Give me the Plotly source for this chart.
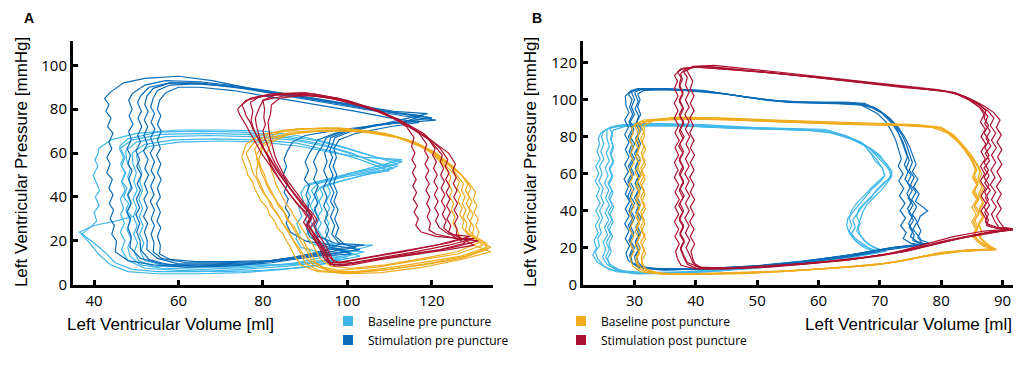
import plotly.graph_objects as go

# ---------------- Panel A data (volume ml, pressure mmHg) ----------------
A_baseline_pre = [
    [(41,62),(44,66),(50,69),(60,70.5),(70,70.5),(80,70),(88,68),(95,65),(102,61),(108,57.5),(112,55),(106,52),(100,50),(94,47),(90,45),(89,42),(89.6,38),(88.5,35),(89.2,31),(88,28),(88.8,24),(87.8,21),(89,17),(95,14),(100,12),(93,9),(85,7),(75,5.5),(65,5),(55,5),(48,6),(44,9),(41,14),(39,19),(37,23),(39,26),(40.6,29),(40,33),(41.2,36),(40.3,40),(41.3,43),(40.4,47),(39.8,50),(40.9,54),(40.2,57),(41,60),(41,62)],
    [(46,63),(48,66.5),(55,69.5),(65,70),(75,69.5),(85,68),(93,65.5),(100,62),(107,58),(113,56),(107,53),(101,51),(95,48),(91,46),(90.5,43),(91.3,40),(90.4,37),(91,33),(90,30),(91.2,26),(90.3,23),(91,19),(97,16),(104,15),(96,11),(86,8.5),(75,7),(65,6),(55,6),(49,7),(45,10),(43,14),(40,19),(36.5,24),(40,27),(45,29),(49,31),(47.5,34),(48.2,37),(47,40),(47.8,44),(46.6,47),(47.5,51),(46.5,54),(47.3,58),(46.5,61),(46,63)],
    [(46,62),(49,66),(56,68.5),(66,69),(76,68.5),(86,67),(94,64),(101,60),(106,56),(111,53),(105,51),(99,49),(93,46),(91.5,43),(92.3,40),(91.2,36),(92,33),(91,30),(91.8,27),(90.8,24),(92,21),(95,15),(98,11),(91,8),(80,6.5),(70,6),(60,6.5),(52,7.5),(48,11),(46.5,16),(47.3,20),(46.2,24),(47.2,28),(46.3,32),(47,35),(46.2,39),(47.4,43),(46.5,47),(47.3,51),(46.3,55),(47,58),(46,62)],
    [(47.5,61),(50,65),(57,67.5),(67,68),(77,67.5),(87,66),(95,63),(102,59),(108,55),(112,54),(106,51),(100,48),(94,45),(92.5,42),(93.2,38),(92.2,35),(93,31),(92,28),(92.8,25),(92,22),(94,19),(100,18),(106,18),(98,14),(88,10),(78,8),(66,7),(56,7.5),(51,9),(48.5,13),(48,17),(48.8,21),(47.8,25),(48.6,29),(47.7,33),(48.7,37),(47.9,41),(48.8,45),(48,49),(48.6,53),(47.7,57),(47.5,61)],
    [(49,60),(52,64),(59,66),(69,66.5),(79,66),(88,64.5),(96,61),(103,57),(110,52),(104,50),(98,47),(93.5,44),(94.2,41),(93.3,38),(94,34),(93,31),(93.8,28),(93,25),(94,22),(97,16),(101,14),(94,11),(84,9),(72,8),(62,8),(54,8.5),(50.5,11),(49.5,15),(50.3,19),(49.4,23),(50.2,27),(49.3,31),(50.1,35),(49.2,39),(50.2,43),(49.4,47),(50,51),(49.2,55),(49,60)],
    [(50,59),(53,63),(60,65),(70,65.5),(80,65),(89,63),(97,60),(104,58),(113,57),(107,54),(101,51),(96,48),(95.3,45),(96,42),(95,38),(95.8,35),(94.8,31),(95.6,28),(94.8,24),(96,20),(97,17),(103,13),(95,10),(85,9),(74,9),(64,8.5),(56,9),(52,11),(51,15),(51.8,19),(50.8,23),(51.6,27),(50.7,31),(51.5,35),(50.6,39),(51.5,43),(50.8,47),(51.3,51),(50.5,55),(50,59)],
]

A_stim_pre = [
    [(44,88),(42.5,85),(43.5,82),(42.8,79),(44,76),(43.2,72),(44.5,69),(43.5,65),(44.2,62),(43,58),(43.8,55),(43,51),(44.3,48),(43.5,44),(44.5,41),(43.6,37),(44.6,34),(43.8,30),(44.8,27),(44.2,23),(45.3,20),(45,15),(48,11),(54,9),(62,8),(72,8.5),(82,10),(92,13),(103,16),(96,18),(90,20),(86.5,24),(85.5,28),(86.3,32),(85.3,35),(86,39),(85,42),(85.8,46),(84.8,50),(85.6,54),(85,57),(85.8,61),(87,65),(90,68),(96,70),(104,72),(112,74),(120,76),(113,78),(105,80),(97,83),(88,86),(78,89),(68,93),(60,95),(52,94),(47,92),(44,88)],
    [(49,87),(48.2,84),(49,80),(48.3,77),(49.2,73),(48.2,70),(48.8,66),(47.8,62),(48.6,59),(48,55),(49,52),(48.2,48),(49,44),(48,41),(48.8,37),(47.8,33),(48.6,30),(48,26),(48.8,22),(48.5,17),(51,12),(56,9.5),(64,8.5),(74,9),(84,11),(94,14),(100,15),(94,18),(91,22),(90.3,26),(91.2,30),(90.2,33),(91,37),(90.2,41),(91,45),(89.8,48),(90.8,52),(90,56),(91,60),(92,63),(93,66),(97,69),(105,72),(113,74),(118,77),(111,78.5),(103,81),(94,84),(84,87.5),(74,90.5),(65,92.5),(57,93),(52,91),(49,87)],
    [(51,86),(50.3,83),(51.2,79),(50.4,76),(51.3,72),(50.3,68),(51,65),(49.9,61),(50.8,57),(50.1,54),(51.2,50),(50.2,46),(51,43),(50,39),(50.8,35),(49.9,32),(50.8,28),(50.1,24),(50.9,20),(51,16),(53,11.5),(58,9),(66,9),(76,9.5),(86,12),(96,16),(104,18),(97,19),(93,22),(92.3,26),(93.2,30),(92.2,34),(93,37),(92.2,41),(93.1,45),(92,48),(92.8,52),(92,56),(93,60),(94,63),(95,67),(99,70),(107,73),(121,75),(113,77),(104,80),(95,83),(85,86.5),(75,89.5),(66,91.5),(58,92),(53,90),(51,86)],
    [(52.5,86),(52,82),(52.8,79),(51.9,75),(52.7,72),(51.8,68),(52.6,64),(51.7,61),(52.8,57),(52,53),(52.9,50),(51.9,46),(52.7,42),(51.8,39),(52.6,35),(51.7,31),(52.7,28),(51.9,24),(52.6,20),(52.5,16),(55,12),(60,9.5),(68,9.5),(78,10),(88,12.5),(101,14),(96,17),(94.8,21),(95.6,25),(94.6,29),(95.4,32),(94.4,36),(95.2,40),(94.3,44),(95.3,48),(94.4,52),(95.2,56),(94.6,60),(95.5,63),(96,67),(100,70),(108,73),(120,76),(112,78),(103,81),(94,84),(84,87),(74,90),(65,92),(58,92),(54,89.5),(52.5,86)],
    [(54,85),(53.4,81),(54.3,78),(53.5,74),(54.4,71),(53.4,67),(54.2,63),(53.3,60),(54.3,56),(53.5,52),(54.4,49),(53.4,45),(54.2,41),(53.3,38),(54.3,34),(53.5,30),(54.3,27),(53.5,23),(54.2,19),(54,15),(56,12),(62,10),(70,10),(80,10.5),(90,13),(102,17),(98,19),(96.3,23),(97,27),(96,31),(96.9,35),(96,38),(96.8,42),(95.8,46),(96.6,50),(95.7,54),(96.5,58),(95.8,61),(96.5,64),(97,67),(101,70),(110,74),(119,78),(111,79),(102,82),(92,85),(82,88),(72,90.5),(64,91.5),(58,91),(55,88.5),(54,85)],
    [(55.5,84),(55,80),(55.8,77),(55,73),(55.9,70),(55,66),(55.7,62),(54.8,59),(55.8,55),(55,51),(55.9,48),(55,44),(55.7,40),(54.8,37),(55.7,33),(54.9,29),(55.8,26),(55,22),(55.7,18),(55.5,14),(58,11.5),(64,10.5),(72,10.5),(82,11),(92,14),(99,19),(97.2,22),(97.9,26),(97,30),(97.8,34),(96.8,38),(97.6,42),(96.7,46),(97.5,50),(96.6,54),(97.4,58),(96.8,62),(98,66),(102,69),(110,72),(117,74),(110,76),(102,79),(93,82),(83,85.5),(73,88.5),(65,90),(60,90),(57,87.5),(55.5,84)],
]

A_baseline_post = [
    [(75,58),(76,64),(79,68),(85,70.5),(95,71.5),(105,70),(112,67),(118,63),(122,57),(125,51),(126.5,47),(126,44),(126.8,41),(126.2,38),(127.2,35),(126.6,32),(127.6,29),(127.2,26),(128.5,23),(131,20),(134,17),(128,13),(120,10),(110,7),(100,5.5),(93,6),(89,9),(87.5,13),(86.5,17),(85.5,20),(84.8,23),(83.4,26),(82.8,29),(81.5,32),(81,35),(79.6,38),(78.8,41),(78,44),(77.5,47),(76.4,50),(76,53),(75.4,56),(75,58)],
    [(76,60),(78,65),(82,69),(88,71),(98,71.5),(107,69.5),(114,66),(120,61),(124,55),(126,50),(127.5,46),(127,43),(127.9,40),(127.2,37),(128.1,34),(127.4,31),(128.3,28),(128,25),(129.5,22),(133,19),(133,16),(127,12),(118,9),(108,6.5),(99,5),(93,6.5),(90,10),(89,14),(88,17.5),(86.8,21),(86,24),(85,27),(84,30),(83.2,33),(81.8,36),(81.2,39),(80,42),(79.2,45),(78.6,48),(77.6,51),(77.2,54),(76.6,57),(76,60)],
    [(78,62),(80,66),(84,69.5),(90,71),(100,71),(109,69),(116,65),(121,60),(125,54),(128,48),(129.2,44),(128.6,41),(129.5,38),(128.8,35),(129.8,32),(129.1,29),(130,26),(129.6,23),(131,20),(132,18),(126,14),(117,11),(107,8),(98,6.5),(94,8),(91.5,11),(90.5,15),(89.5,18),(88.6,21),(87.5,24),(86.8,27),(85.6,30),(85,33),(83.6,36),(83,39),(81.8,42),(81,45),(80.4,48),(79.6,51),(79.2,54),(78.6,58),(78,62)],
    [(79,57),(80,63),(83,67),(89,69.5),(99,70.5),(108,69),(115,65.5),(120,60),(123,54),(124.5,49),(124,46),(124.8,43),(124.2,40),(125.2,37),(124.6,34),(125.5,31),(125,28),(126,25),(126.5,22),(130,18),(134,15),(127,11.5),(118,8),(108,5.5),(100,5),(95,7),(92.5,10),(91.5,14),(90.4,17),(89.6,20),(88.3,23),(87.5,26),(86.2,29),(85.4,32),(84.5,35),(83.2,38),(82.4,41),(81.6,44),(80.8,47),(80.4,50),(79.6,53),(79,57)],
    [(81,60),(82,65),(86,68.5),(93,70),(103,70),(111,68),(117,64),(122,58),(126,52),(129,46),(130.4,42),(129.8,39),(130.7,36),(130,33),(131,30),(130.4,27),(131.2,24),(130.6,21),(131,19),(126,15),(118,12),(109,9),(101,7.5),(96,8.5),(93.5,12),(92.5,15.5),(91.6,19),(90.4,22),(89.5,25),(88.5,28),(87.4,31),(86.6,34),(85.4,37),(84.6,40),(83.8,43),(83,46),(82.6,49),(82,52),(81.6,56),(81,60)],
    [(80,64),(82,67),(87,69.5),(95,70.5),(104,69.5),(112,67),(118,62.5),(123,56),(127,50),(128.5,46),(128,43),(128.9,40),(128.2,37),(129.1,34),(128.4,31),(129.3,28),(128.8,25),(130,22),(132,20),(133,17),(127,13),(119,10.5),(111,8),(102,6),(96,6),(92,9),(90,12.5),(88.8,16),(87.8,19),(86.6,22),(86,25),(84.6,28),(83.8,31),(82.6,34),(82,37),(80.8,40),(80,43),(79.4,46),(78.6,49),(78.4,52),(78.8,55),(78.4,59),(80,64)],
]

A_stim_post = [
    [(74,80),(76,84),(80,86),(88,87),(96,85),(104,81),(110,77),(114,72),(115.8,67),(115.2,63),(116,60),(115.3,57),(116.2,54),(115.4,51),(116.3,48),(115.5,45),(116.4,42),(115.6,39),(116.6,36),(115.8,33),(116.8,30),(116.2,27),(117.5,24),(121,22),(127,21),(130,21),(124,18),(116,15),(107,12),(100,9.5),(96,9),(94.5,12),(93.6,16),(92.4,20),(91.2,24),(90.2,27),(91,30),(90.2,33),(88.6,36),(87.2,39),(86,42),(85,45),(83.8,48),(82.8,51),(81.8,54),(80.6,57),(79.6,60),(78.8,63),(77.8,66),(77,69),(76.2,72),(75.2,75),(74.5,77.5),(74,80)],
    [(75,82),(77,85),(82,87),(90,87.5),(98,85),(106,80),(112,75),(117,69),(118.8,64),(118.3,61),(119.2,58),(118.4,55),(119.3,52),(118.5,49),(119.4,46),(118.6,43),(119.5,40),(118.8,37),(119.6,34),(118.9,31),(119.7,28),(119.3,25),(121,23),(126,21),(131,20),(125,17),(117,14),(108,11.5),(101,9),(97,8.5),(95.5,11),(94.6,15),(93.5,19),(92.3,22),(91.2,26),(92.2,29),(91.5,32),(90.2,35),(88.8,38),(87.6,41),(86.4,44),(85.2,47),(84.2,50),(83.2,53),(82,56),(81.2,59),(80.2,62),(79.4,65),(78.6,68),(77.6,71),(77,74),(76,77),(75.6,79.5),(75,82)],
    [(77,83),(79,85.5),(84,87),(92,87),(100,84),(108,79),(114,73),(119,67),(120.8,62),(120.2,59),(121.1,56),(120.4,53),(121.3,50),(120.5,47),(121.4,44),(120.6,41),(121.5,38),(120.7,35),(121.6,32),(120.9,29),(121.8,26),(124,23),(129,22),(124,19),(115,16),(106,13),(99,10.5),(96,10),(95.2,13),(94.2,17),(93,21),(91.8,24),(90.6,27),(91.5,30),(90.8,33),(89.4,36),(88.2,39),(87,42),(85.8,45),(84.8,48),(83.6,51),(82.6,54),(81.6,57),(80.6,60),(79.8,63),(79,66),(78.2,69),(77.6,72),(77.2,75),(77.6,79),(77,83)],
    [(79,80),(80,84),(85,86),(93,86),(101,83),(109,78),(115,72),(120,65),(122.5,59),(122,56),(122.8,53),(122.1,50),(123,47),(122.2,44),(123.1,41),(122.3,38),(123.2,35),(122.5,32),(123.4,29),(122.8,26),(124.5,23),(126,21),(128,19),(122,16),(113,13.5),(105,11),(99,9),(96,9.5),(94.8,12.5),(94,16),(92.8,19.5),(91.6,23),(90.4,26),(89.6,28.5),(90.4,31),(89.4,34),(88,37),(86.8,40),(85.8,43),(84.6,46),(83.6,49),(82.8,52),(81.8,55),(81.2,58),(80.4,61),(79.8,64),(79.2,67),(78.8,70),(78.4,73),(78.2,76),(79,80)],
    [(80,84),(83,86.5),(89,87),(97,85),(105,81),(112,75.5),(118,69),(122,62),(123.8,57),(123.2,54),(124.1,51),(123.3,48),(124.2,45),(123.4,42),(124.3,39),(123.5,36),(124.4,33),(123.6,30),(124.5,27),(124,24),(126,22),(128,20),(130,18),(124,16),(116,14),(108,12),(101,10),(97,10),(95.6,13),(94.8,16),(93.6,19.5),(92.4,23),(91.2,26),(90.6,28.5),(91.6,31),(90.6,34),(89.2,37),(88,40),(86.8,43),(85.8,46),(84.8,49),(83.8,52),(83,55),(82.2,58),(81.6,61),(81,64),(80.4,67),(80,70),(80.6,73),(80.2,76),(80.4,80),(80,84)],
    [(82,82),(84,85),(90,86.5),(98,84.5),(106,80),(113,74),(119,67),(124,60),(125.6,55),(125,52),(125.8,49),(125.1,46),(126,43),(125.2,40),(126.1,37),(125.3,34),(126.2,31),(125.4,28),(126,25),(125.8,23),(127,21),(121,18),(113,15),(104,12),(98,10),(96.5,11.5),(95.8,14.5),(94.8,18),(93.8,21),(92.8,24),(92,27),(92.8,29.5),(92,32),(90.6,35),(89.4,38),(88.2,41),(87,44),(86,47),(85,50),(84.2,53),(83.4,56),(82.8,59),(82.4,62),(82,65),(81.6,68),(81.4,71),(81.2,74),(81.8,78),(82,82)],
]

# ---------------- Panel B data ----------------
B_baseline_pre = [
    [(25,83),(26.5,85.5),(30,86.5),(38,86),(46,84.5),(54,84),(60,83.5),(64,81),(66.5,77.5),(68.2,74),(69.3,70),(70.4,66),(71.6,62),(71.8,58),(70.6,55),(69.4,51),(68.6,47),(67.3,43),(66.4,39),(65.6,35),(66,31),(65.3,27),(66.2,23),(67.5,20),(69,18),(66,16),(60,13),(52,10),(45,8),(38,6.5),(31,6),(27,7),(25,10),(24,14),(23.6,18),(24.3,21),(24,25),(24.6,28),(24.2,32),(24.8,36),(24.3,40),(25,44),(24.5,48),(24.9,52),(24.2,56),(24.7,60),(24.3,64),(25,68),(24.5,72),(25,76),(24.6,80),(25,83)],
    [(25.5,84),(27,86),(31,87),(39,86.5),(47,85),(55,84.5),(61,84),(64.5,80.5),(67,77),(68.6,73),(70,69),(71.2,65),(72,61),(71.4,57),(70.2,53),(69,49),(67.8,45),(66.6,41),(66.2,37),(66.8,33),(66.2,29),(67.2,25),(68,22),(70,19),(66,16.5),(59,13.5),(51,10.5),(44,8),(36,6.5),(30,6),(27,8),(25.5,11),(24.8,15),(25.3,19),(24.9,23),(25.6,27),(25.1,31),(25.8,35),(25.2,39),(25.9,43),(25.3,47),(25.8,51),(25.1,55),(25.7,59),(25.2,63),(25.9,67),(25.4,71),(25.9,75),(25.5,79),(25.5,84)],
    [(24.5,82),(26,85),(29,86),(36,86),(44,85),(52,84),(58,83.5),(62,82),(65.5,78.5),(67.6,75),(68.5,71),(69.2,67),(70.4,63),(70.8,59),(69.8,56),(68.5,52),(67.4,48),(66.2,44),(65.4,40),(65,36),(65.4,32),(65,29),(66,25),(67.2,22),(69,18),(65,15),(58,12),(50,9),(42,7),(35,6),(29,6.5),(26,8),(24,12),(23.2,16),(23.8,20),(23.4,24),(24.1,28),(23.6,32),(24.3,36),(23.7,40),(24.4,44),(23.8,48),(24.3,52),(23.6,56),(24.2,60),(23.7,64),(24.4,68),(23.9,72),(24.3,76),(24.1,79),(24.5,82)],
    [(26,84.5),(28,86.5),(33,87),(41,86.5),(49,85),(56,84),(61,83),(64,80.5),(66.6,77),(68.6,73.5),(70,70),(70.8,66),(71.5,62),(72,59),(71.2,55),(70.2,51),(69,47),(67.8,43),(67.2,39),(66.8,35),(66.4,31),(66.8,27),(67.4,24),(69,20),(71,18),(67,16),(61,14),(54,11),(46,8.5),(38,7),(32,6.5),(28,7.5),(26,10),(25.6,14),(26.2,18),(25.8,22),(26.4,26),(25.9,30),(26.5,34),(26,38),(26.6,42),(26,46),(26.5,50),(25.8,54),(26.4,58),(25.9,62),(26.6,66),(26.1,70),(26.6,74),(26.2,78),(26.4,81),(26,84.5)],
    [(26.5,83.5),(28.5,85.5),(33,86),(40,85.5),(48,84.5),(56,83.5),(62,83),(65,79.5),(67.4,75.5),(68.6,71),(69.6,67),(70.4,63),(70.8,59),(70,55.5),(68.8,52),(67.8,48),(66.8,44),(65.8,40),(64.8,36),(64.6,32),(65,28),(65.8,24.5),(67,21.5),(68.5,19.5),(70,17.5),(66,15),(59,12.5),(52,10),(44,7.5),(36,6),(30,6),(27.5,8),(26,11),(25.3,15),(25.9,19),(25.4,23),(26.1,27),(25.6,31),(26.3,35),(25.7,39),(26.4,43),(25.8,47),(26.3,51),(25.7,55),(26.4,59),(25.9,63),(26.6,67),(26,71),(26.5,75),(26.1,79),(26.5,83.5)],
]

B_stim_pre = [
    [(29,103),(30,105.5),(33,106),(40,105),(46,102.5),(52,99.5),(58,98.5),(64,98.5),(67.5,98),(70,94),(71.8,89),(72.8,84),(73.4,79),(73.9,74),(74.5,69),(74,65),(74.6,61),(74.1,57),(75,53),(74.4,49),(75.2,45),(74.5,41),(75.3,37),(74.7,33),(75.4,29),(75,26),(76,23.5),(77.5,22),(72,20),(66,16),(58,12.5),(50,10),(42,8.5),(35,8),(31,9.5),(29.5,12),(29.2,16),(29.7,20),(29.1,24),(29.6,28),(29,32),(29.7,36),(29.1,40),(29.6,44),(28.9,48),(29.5,52),(28.9,56),(29.6,60),(29,64),(29.7,68),(29.1,72),(29.6,76),(29,80),(29.6,84),(29.1,88),(29.7,92),(29.2,96),(29.6,100),(29,103)],
    [(30,104),(31,105.5),(35,106),(42,104.5),(48,101.5),(54,99),(60,98.5),(66,98),(69,96),(71,91.5),(72.6,86),(73.6,81),(74.3,76),(74.8,71),(75.3,66),(74.8,62),(75.6,58),(75,54),(75.9,50),(75.2,46),(76,42),(75.3,38),(76.1,34),(75.4,30),(76.2,26.5),(76.8,24),(78,22.5),(73,20.5),(67,17),(59,13),(51,10.5),(43,9),(36,8.5),(32,9),(30.3,11),(30,15),(30.6,19),(30.1,23),(30.7,27),(30.2,31),(30.8,35),(30.2,39),(30.7,43),(30,47),(30.6,51),(30.1,55),(30.7,59),(30.1,63),(30.6,67),(30,71),(30.7,75),(30.2,79),(30.8,83),(30.2,87),(30.7,91),(30.1,95),(30.6,99),(30,104)],
    [(28.5,102),(29.5,105),(32,105.5),(38,105),(45,103),(51,100),(57,98.5),(63,98),(67,97),(69.6,92.5),(71,88),(71.9,83),(72.6,78),(73,73),(73.5,68),(73,64),(73.8,60),(73.1,56),(73.9,52),(73.2,48),(74.1,44),(73.3,40),(74.2,36),(73.4,32),(74.3,28),(73.8,25),(75,22.5),(76.5,21.5),(71,19.5),(64,15.5),(56,12),(48,9.5),(40,8.5),(34,8.5),(30.5,10),(29,13),(28.6,17),(29.2,21),(28.5,25),(29.1,29),(28.4,33),(29.1,37),(28.5,41),(29.2,45),(28.5,49),(29,53),(28.3,57),(29,61),(28.4,65),(29.1,69),(28.5,73),(29.1,77),(28.4,81),(29,85),(28.4,89),(29.1,93),(28.6,97),(28.5,102)],
    [(30.5,103),(31.5,105),(36,105.5),(43,104),(49,101),(55,98.5),(61,98),(66.5,97.5),(69.5,95),(71.6,90),(73,85),(74,80),(74.8,75),(75.4,70),(75.9,65),(75.3,61),(76.2,57),(75.5,53),(76.4,49),(75.8,45),(77,42),(77.8,40),(76.6,37),(76.1,33),(76.7,29),(76.2,25.5),(77,22),(72,20),(65,16),(57,12.5),(49,10),(41,8.5),(35,8),(31.5,9),(30.6,12),(30.3,16),(30.9,20),(30.3,24),(31,28),(30.4,32),(31.1,36),(30.4,40),(30.9,44),(30.3,48),(31,52),(30.4,56),(31,60),(30.3,64),(30.9,68),(30.3,72),(31,76),(30.5,80),(31.1,84),(30.4,88),(31,92),(30.5,96),(30.9,100),(30.5,103)],
    [(29.5,104),(30.5,106),(34,106),(41,105),(47,102),(53,99.5),(59,98.5),(65,98.5),(68,97),(70.4,92.5),(72,87),(73,82),(73.8,77),(74.3,72),(74.8,67),(74.3,63),(75.1,59),(74.5,55),(75.3,51),(74.6,47),(75.4,43),(74.7,39),(75.5,35),(74.8,31),(75.6,27),(75.4,24),(77,21.5),(71.5,19),(65,15),(57,11.5),(49,9.5),(41,8.5),(34,8),(30.5,9.5),(29.6,12),(29.4,16),(30,20),(29.3,24),(29.9,28),(29.3,32),(30,36),(29.4,40),(30,44),(29.3,48),(29.9,52),(29.2,56),(29.9,60),(29.3,64),(30,68),(29.4,72),(30,76),(29.3,80),(29.9,84),(29.3,88),(30,92),(29.5,96),(30,100),(29.5,104)],
]

B_baseline_post = [
    [(30.5,86),(32,88.5),(36,90),(44,89.5),(52,88.5),(60,87.5),(68,86.5),(75,86),(79,85.5),(81,83),(82.5,78),(83.8,73),(84.8,68),(85.6,63),(85.4,59),(86,55),(85.4,51),(86.1,47),(85.5,43),(86.2,39),(85.5,35),(86,31),(85.4,27),(86,24),(87,21.5),(89,19),(84,18.5),(79,16.5),(74,13),(69,10.5),(62,9),(54,7),(46,6),(39,5.5),(34,6),(31.5,8),(30.6,11),(30.3,15),(30.9,19),(30.4,23),(31,27),(30.3,31),(30.9,35),(30.4,39),(31,43),(30.3,47),(30.9,51),(30.4,55),(31.1,59),(30.5,63),(31,67),(30.4,71),(30.9,75),(30.4,79),(30.9,83),(30.5,86)],
    [(31,87),(33,89),(37,90.5),(45,90),(53,89),(61,88),(69,87),(76,86.5),(80,85),(82,81),(83.4,76),(84.6,71),(85.6,66),(86.3,61),(86,57),(86.7,53),(86.1,49),(86.8,45),(86.2,41),(86.8,37),(86.1,33),(86.6,29),(86.2,26),(87.2,23),(88.5,19.5),(84,18.5),(78,16),(73,12.5),(67,10),(60,8.5),(52,7),(44,6),(38,5.5),(33.5,6.5),(31.6,9),(31.2,13),(31.8,17),(31.2,21),(31.8,25),(31.1,29),(31.7,33),(31.1,37),(31.8,41),(31.2,45),(31.7,49),(31.1,53),(31.7,57),(31.1,61),(31.8,65),(31.2,69),(31.8,73),(31.2,77),(31.7,81),(31.3,84),(31,87)],
    [(29.5,85),(31,88),(35,89.5),(42,89.5),(50,88.5),(58,87.5),(66,86.5),(74,86),(78.5,85),(81,82),(82.8,77),(84,72),(85,67),(85.6,62),(85.1,58),(85.8,54),(85.1,50),(85.8,46),(85,42),(85.7,38),(85,34),(85.6,30),(85.1,26),(86,23),(86.8,21),(88.5,19),(83,18),(77,15),(71,11.5),(64,9.5),(56,7.5),(48,6),(40,5.5),(35,5.5),(31,7),(29.7,10),(29.3,14),(29.9,18),(29.3,22),(29.9,26),(29.2,30),(29.8,34),(29.2,38),(29.9,42),(29.3,46),(29.8,50),(29.1,54),(29.7,58),(29.2,62),(29.9,66),(29.3,70),(29.8,74),(29.2,78),(29.8,82),(29.5,85)],
    [(31.5,86),(33,88.5),(38,89.5),(46,89),(54,88),(62,87),(70,86.5),(77,86),(80.5,84),(82.4,79.5),(83.8,74.5),(85,69.5),(86,64.5),(86.6,60),(86.1,56),(86.9,52),(86.2,48),(86.9,44),(86.2,40),(86.9,36),(86.1,32),(86.7,28),(86.3,25),(87.3,22),(89,19),(85,19),(80,17.5),(75,14),(70,11),(63,9),(55,7.5),(47,6.5),(40,6),(35,6),(32,7.5),(31.2,11),(31.1,15),(31.6,19),(31,23),(31.7,27),(31,31),(31.6,35),(31,39),(31.7,43),(31,47),(31.6,51),(30.9,55),(31.6,59),(31,63),(31.7,67),(31.1,71),(31.6,75),(31,79),(31.6,83),(31.5,86)],
    [(30,86.5),(31.5,89),(36,90),(43,90),(51,89),(59,88),(67,87),(75,86),(79.5,85),(81.5,81.5),(83,77),(84.2,72),(85.2,67),(85.8,62),(85.3,58),(86,54),(85.3,50),(86.1,46),(85.4,42),(86.1,38),(85.3,34),(85.9,30),(85.4,26),(86.4,23),(87.5,21),(88.5,19),(83.5,18),(78,16),(72,12),(66,10),(58,8),(50,6.5),(42,6),(36,5.5),(32,6.5),(30.6,9),(30.2,13),(30.8,17),(30.1,21),(30.7,25),(30.1,29),(30.8,33),(30.2,37),(30.8,41),(30.2,45),(30.9,49),(30.2,53),(30.7,57),(30.1,61),(30.8,65),(30.2,69),(30.7,73),(30.1,77),(30.7,81),(30.3,84),(30,86.5)],
]

B_stim_post = [
    [(37.5,114),(38.5,117),(41,118),(46,116.5),(52,114.5),(60,112),(68,109),(76,106),(81,104.5),(83,102.5),(85,99),(86.6,95),(87.6,91),(87.1,87),(88,83),(87.3,79),(88.1,75),(87.2,71),(87.9,67),(87,63),(87.8,59),(87.1,55),(88,51),(87.2,47),(87.9,43),(87.1,39),(87.7,35),(87.4,32),(89,30.5),(92,29.5),(88,28.5),(84,26),(80,23),(75,18.5),(70,15.5),(64,13),(57,11),(50,9.5),(44,8.5),(40,9),(38.6,11),(38,15),(37.5,19),(38.1,23),(37.4,27),(38,31),(37.3,35),(37.9,39),(37.2,43),(37.9,47),(37.3,51),(38,55),(37.4,59),(38,63),(37.3,67),(37.9,71),(37.2,75),(37.9,79),(37.3,83),(38,87),(37.4,91),(38,95),(37.3,99),(37.9,103),(37.3,107),(37.8,111),(37.5,114)],
    [(38,115),(39.5,117.5),(42,118),(48,116),(55,113.5),(63,111),(71,108),(78,105.5),(82,104),(84,101),(86,97.5),(87.6,94),(88.6,90),(88,86),(88.9,82),(88.2,78),(89,74),(88.2,70),(88.9,66),(88.1,62),(88.8,58),(88,54),(88.9,50),(88.2,46),(89,42),(88.2,38),(88.8,34),(89.4,31),(91.5,30),(87.5,28),(83,25),(78,21),(73,17.5),(67,14.5),(60,12),(53,10),(46,9),(41,9),(39.5,12),(39,16),(38.4,20),(39,24),(38.3,28),(38.9,32),(38.2,36),(38.9,40),(38.3,44),(39,48),(38.3,52),(38.9,56),(38.2,60),(38.9,64),(38.3,68),(39,72),(38.4,76),(39,80),(38.3,84),(38.9,88),(38.2,92),(38.9,96),(38.3,100),(38.9,104),(38.3,108),(38.6,112),(38,115)],
    [(36.5,113),(37.5,116.5),(40,117.5),(45,116.5),(51,115),(58,112.5),(66,109.5),(74,106.5),(80,105),(82.5,103),(84.5,100),(86.2,96),(87,92),(86.4,88),(87.2,84),(86.5,80),(87.3,76),(86.5,72),(87.2,68),(86.4,64),(87.1,60),(86.4,56),(87.2,52),(86.5,48),(87.3,44),(86.5,40),(87.2,36),(87.4,33),(89.5,30.5),(91.5,30),(87,29),(82,26),(77,21.5),(72,17),(66,14),(59,11.5),(52,9.5),(45,8.5),(40,8.5),(37.6,10.5),(37,14),(36.7,18),(37.3,22),(36.6,26),(37.2,30),(36.5,34),(37.2,38),(36.6,42),(37.3,46),(36.6,50),(37.2,54),(36.5,58),(37.1,62),(36.5,66),(37.2,70),(36.6,74),(37.3,78),(36.6,82),(37.2,86),(36.5,90),(37.1,94),(36.5,98),(37.1,102),(36.5,106),(37,110),(36.5,113)],
    [(38.5,116),(39.5,118),(43,118.5),(49,116.5),(56,114),(64,111),(72,108),(79,105.5),(82.5,103.5),(85,100),(87,96.5),(88.6,93),(89.6,89),(89,85),(89.8,81),(89.1,77),(89.9,73),(89.2,69),(89.9,65),(89.1,61),(89.8,57),(89,53),(89.8,49),(89.1,45),(89.8,41),(89,37),(89.6,33.5),(90.2,31),(92,30),(88.5,28),(84,25.5),(79,22),(74,18),(68,15),(61,12.5),(54,10.5),(47,9),(42,8.5),(40,10),(39.5,14),(39.2,18),(39.8,22),(39.1,26),(39.7,30),(39,34),(39.7,38),(39.1,42),(39.8,46),(39.1,50),(39.7,54),(39,58),(39.7,62),(39.1,66),(39.8,70),(39.1,74),(39.7,78),(39,82),(39.6,86),(39,90),(39.7,94),(39.1,98),(39.7,102),(39.1,106),(39.5,110),(39,113),(38.5,116)],
    [(37,115),(38,117),(40.5,117.5),(47,116),(54,114),(62,111.5),(70,108.5),(77,106),(81.5,104),(84,101.5),(86,98),(87.3,94),(87,90),(87.7,86),(87,82),(87.8,78),(87.1,74),(87.8,70),(87,66),(87.7,62),(87,58),(87.8,54),(87.1,50),(87.7,46),(87,42),(87.7,38),(87.2,34),(88,31.5),(89,30.5),(91,29.5),(86.5,27.5),(81,24),(76,20),(71,16.5),(65,13.5),(58,11.5),(51,10),(45,9),(40.5,9.5),(38.6,12),(38,16),(37.5,20),(38.1,24),(37.4,28),(38,32),(37.3,36),(38,40),(37.4,44),(38.1,48),(37.4,52),(38,56),(37.3,60),(37.9,64),(37.3,68),(38,72),(37.4,76),(38.1,80),(37.4,84),(38,88),(37.3,92),(37.9,96),(37.3,100),(37.9,104),(37.3,108),(37.6,112),(37,115)],
]

series_names = ["Baseline pre puncture", "Stimulation pre puncture",
                "Baseline post puncture", "Stimulation post puncture"]
series_colors = ["#3fb7ea", "#0b6cb8", "#f0ac1e", "#ad1130"]

A_ticks = [40, 60, 80, 100, 120]
A_yticks = [0, 20, 40, 60, 80, 100]
B_ticks = [30, 40, 50, 60, 70, 80, 90]
B_yticks = [0, 20, 40, 60, 80, 100, 120]


def flatten(loops):
    xs, ys = [], []
    for loop in loops:
        for v, p in loop:
            xs.append(v)
            ys.append(p)
        xs.append(None)
        ys.append(None)
    return xs, ys


fig = go.Figure()

panelA = [A_baseline_pre, A_stim_pre, A_baseline_post, A_stim_post]
panelB = [B_baseline_pre, B_stim_pre, B_baseline_post, B_stim_post]

for loops, name, col in zip(panelA, series_names, series_colors):
    xs, ys = flatten(loops)
    fig.add_trace(go.Scatter(x=xs, y=ys, mode="lines", name=name,
                             line=dict(color=col, width=1.2),
                             showlegend=False, xaxis="x", yaxis="y",
                             hoverinfo="skip"))
for loops, name, col in zip(panelB, series_names, series_colors):
    xs, ys = flatten(loops)
    fig.add_trace(go.Scatter(x=xs, y=ys, mode="lines", name=name,
                             line=dict(color=col, width=1.2),
                             showlegend=False, xaxis="x2", yaxis="y2",
                             hoverinfo="skip"))

# legend entries (square swatches)
for i, (name, col) in enumerate(zip(series_names, series_colors)):
    fig.add_trace(go.Scatter(x=[None], y=[None], mode="markers", name=name,
                             marker=dict(symbol="square", size=10, color=col),
                             legend="legend" if i < 2 else "legend2",
                             xaxis="x" if i < 2 else "x2",
                             yaxis="y" if i < 2 else "y2"))

W, H = 1021, 365
ydom = [1 - 283.7 / H, 1 - 34 / H]
axis_common = dict(showline=True, linecolor="black", linewidth=3,
                   ticks="inside", ticklen=5, tickwidth=3, tickcolor="black",
                   showgrid=False, zeroline=False,
                   tickfont=dict(family="Open Sans", size=15, color="black"))

fig.update_layout(
    width=W, height=H,
    margin=dict(l=0, r=0, t=0, b=0),
    paper_bgcolor="white", plot_bgcolor="white",
    xaxis=dict(domain=[65 / W, 485 / W], range=[35, 134.5],
               tickvals=A_ticks, anchor="y", **axis_common),
    yaxis=dict(domain=ydom, range=[0, 111], tickvals=A_yticks,
               anchor="x", **axis_common),
    xaxis2=dict(domain=[575 / W, 1008 / W], range=[21.6, 92.2],
                tickvals=B_ticks, anchor="y2", **axis_common),
    yaxis2=dict(domain=ydom, range=[0, 131.6], tickvals=B_yticks,
                anchor="x2", **axis_common),
    legend=dict(x=320 / W, y=1 - 306 / H, xanchor="left", yanchor="top",
                font=dict(family="Open Sans", size=12, color="black"),
                bgcolor="rgba(0,0,0,0)", itemwidth=30, tracegroupgap=0),
    legend2=dict(x=553 / W, y=1 - 306 / H, xanchor="left", yanchor="top",
                 font=dict(family="Open Sans", size=12, color="black"),
                 bgcolor="rgba(0,0,0,0)", itemwidth=30, tracegroupgap=0),
)

title_font = dict(family="Liberation Sans", size=17, color="black")
annots = [
    dict(text="<b>A</b>", x=21 / W, y=1 - 10 / H,
         font=dict(family="Liberation Sans", size=14, color="black")),
    dict(text="<b>B</b>", x=529 / W, y=1 - 10 / H,
         font=dict(family="Liberation Sans", size=14, color="black")),
    dict(text="Left Ventricular Pressure [mmHg]", x=13 / W, y=1 - 158 / H,
         textangle=-90, font=title_font),
    dict(text="Left Ventricular Pressure [mmHg]", x=522 / W, y=1 - 158 / H,
         textangle=-90, font=title_font),
    dict(text="Left Ventricular Volume [ml]", x=162 / W, y=1 - 325 / H,
         font=title_font),
    dict(text="Left Ventricular Volume [ml]", x=900 / W, y=1 - 325 / H,
         font=title_font),
]
for a in annots:
    fig.add_annotation(xref="paper", yref="paper", showarrow=False,
                       xanchor="center", yanchor="middle", **a)

fig.write_html("out.html")
